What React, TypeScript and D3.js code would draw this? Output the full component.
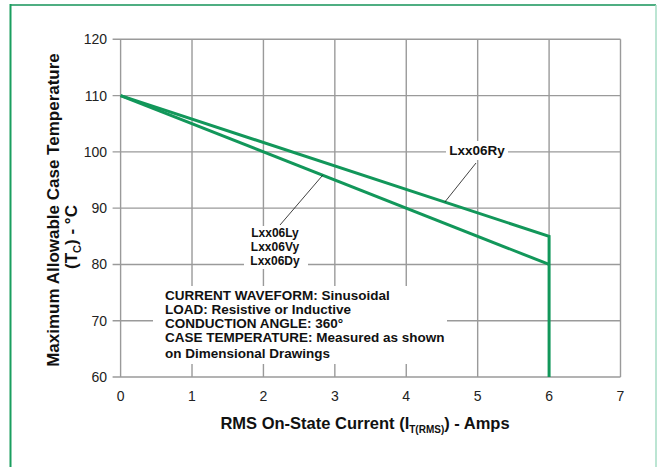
import React, { useEffect, useRef } from 'react';
import * as d3 from 'd3';

const xTicks = [0, 1, 2, 3, 4, 5, 6, 7];
const yTicks = [60, 70, 80, 90, 100, 110, 120];
const curveR = [{ x: 0, y: 110 }, { x: 6, y: 85 }, { x: 6, y: 60 }];
const curveLVD = [{ x: 0, y: 110 }, { x: 6, y: 80 }];
const labelR = ['Lxx06Ry'];
const labelLVD = ['Lxx06Ly', 'Lxx06Vy', 'Lxx06Dy'];
const notes = [
  'CURRENT WAVEFORM: Sinusoidal',
  'LOAD: Resistive or Inductive',
  'CONDUCTION ANGLE: 360°',
  'CASE TEMPERATURE: Measured as shown',
  'on Dimensional Drawings',
];

export default function App() {
  const ref = useRef<SVGSVGElement>(null);

  useEffect(() => {
    if (!ref.current) return;
    const svg = d3.select(ref.current);
    svg.selectAll('*').remove();

    const W = 657, H = 467;
    const m = { left: 120.6, right: 657 - 620.5, top: 39.3, bottom: 467 - 377 };
    const x = d3.scaleLinear().domain([0, 7]).range([m.left, W - m.right]);
    const y = d3.scaleLinear().domain([60, 120]).range([H - m.bottom, m.top]);
    const font = '"Liberation Sans", Arial, sans-serif';
    const green = '#12975a';

    svg.append('rect').attr('width', W).attr('height', H).attr('fill', '#fff');
    // frame
    svg.append('line').attr('x1', 10).attr('x2', 656).attr('y1', 5).attr('y2', 5).attr('stroke', '#4fae82').attr('stroke-width', 2);
    svg.append('line').attr('x1', 10.5).attr('x2', 10.5).attr('y1', 4).attr('y2', H).attr('stroke', '#1a9e5f').attr('stroke-width', 2);
    svg.append('line').attr('x1', 656).attr('x2', 656).attr('y1', 5).attr('y2', H).attr('stroke', '#a6dcc5').attr('stroke-width', 1.5);

    const grid = svg.append('g').attr('stroke', '#9a9a9a').attr('stroke-width', 1.4);
    xTicks.forEach(t => {
      grid.append('line').attr('x1', x(t)).attr('x2', x(t)).attr('y1', y(120)).attr('y2', y(60));
    });
    yTicks.forEach(t => {
      grid.append('line').attr('x1', x(0) - 8).attr('x2', x(7)).attr('y1', y(t)).attr('y2', y(t));
    });

    // tick labels
    svg.append('g').selectAll('text').data(yTicks).enter().append('text')
      .attr('x', 107).attr('y', d => y(d) + 5)
      .attr('text-anchor', 'end').attr('font-family', font).attr('font-size', 14).attr('fill', '#222')
      .text(d => d);
    svg.append('g').selectAll('text').data(xTicks).enter().append('text')
      .attr('x', d => x(d)).attr('y', y(60) + 24)
      .attr('text-anchor', 'middle').attr('font-family', font).attr('font-size', 14).attr('fill', '#222')
      .text(d => d);

    // curves
    const line = d3.line<{ x: number; y: number }>().x(d => x(d.x)).y(d => y(d.y));
    [curveR, curveLVD].forEach(c => {
      svg.append('path').attr('d', line(c)).attr('fill', 'none').attr('stroke', green).attr('stroke-width', 3);
    });

    const bold = (sel: any, size: number) =>
      sel.attr('font-family', font).attr('font-size', size).attr('font-weight', 'bold').attr('fill', '#111');

    // notes box with white background
    svg.append('rect').attr('x', 153).attr('y', 286).attr('width', 294).attr('height', 78).attr('fill', '#fff');
    bold(svg.append('g').selectAll('text').data(notes).enter().append('text')
      .attr('x', 165).attr('y', (d: string, i: number) => 300 + i * 14 + (i === 4 ? 2 : 0)), 13.5)
      .text((d: string) => d);

    // label Ry
    svg.append('line').attr('x1', 476).attr('y1', 163).attr('x2', x(4.54)).attr('y2', y(110 - 25 / 6 * 4.54))
      .attr('stroke', '#111').attr('stroke-width', 0.8);
    svg.append('rect').attr('x', 446).attr('y', 141).attr('width', 62).attr('height', 19).attr('fill', '#fff');
    bold(svg.append('g').selectAll('text').data(labelR).enter().append('text')
      .attr('x', 477).attr('y', 155).attr('text-anchor', 'middle'), 13.5)
      .text((d: string) => d);

    // label L/V/D
    svg.append('line').attr('x1', 280).attr('y1', 225).attr('x2', x(2.83)).attr('y2', y(110 - 5 * 2.83))
      .attr('stroke', '#111').attr('stroke-width', 0.8);
    svg.append('rect').attr('x', 244).attr('y', 226).attr('width', 64).attr('height', 43).attr('fill', '#fff');
    bold(svg.append('g').selectAll('text').data(labelLVD).enter().append('text')
      .attr('x', 275).attr('y', (d: string, i: number) => 237 + i * 14).attr('text-anchor', 'middle'), 12)
      .text((d: string) => d);

    // axis titles
    const yt = bold(svg.append('text').attr('transform', `translate(59,210) rotate(-90)`)
      .attr('text-anchor', 'middle'), 17);
    yt.text('Maximum Allowable Case Temperature');
    const yt2 = bold(svg.append('text').attr('transform', `translate(77,237) rotate(-90)`)
      .attr('text-anchor', 'middle'), 17);
    yt2.append('tspan').text('(T');
    yt2.append('tspan').attr('font-size', 11).attr('dy', 4).text('C');
    yt2.append('tspan').attr('dy', -4).text(') - °C');

    const xt = bold(svg.append('text').attr('x', 365).attr('y', 429)
      .attr('text-anchor', 'middle'), 16.5);
    xt.append('tspan').text('RMS On-State Current (I');
    xt.append('tspan').attr('font-size', 10).attr('dy', 4).text('T(RMS)');
    xt.append('tspan').attr('dy', -4).text(') - Amps');
  }, []);

  return (
    <svg ref={ref} width={657} height={467} style={{ display: 'block', position: 'absolute', left: 0, top: 0 }} />
  );
}
